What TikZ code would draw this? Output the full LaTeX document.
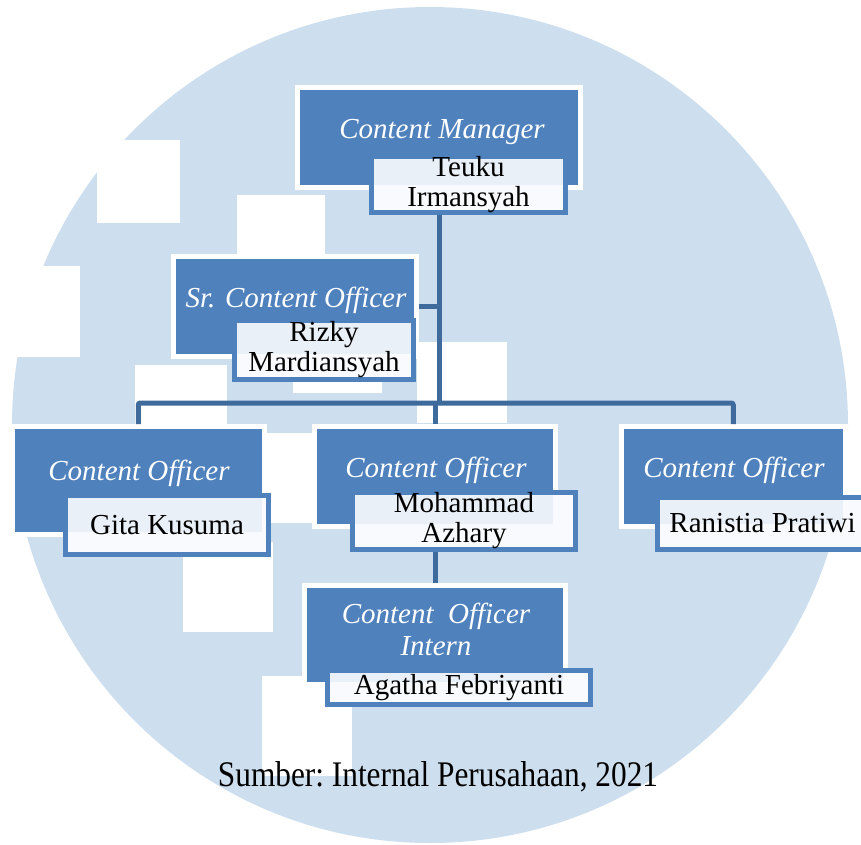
\documentclass[tikz,border=0pt]{standalone}
\usepackage{fontspec}
\setmainfont{Liberation Serif}
\newfontfamily\srcfont{Liberation Serif}[FakeStretch=0.87]
\usetikzlibrary{calc}
\definecolor{wm}{HTML}{CDDEEE}
\definecolor{boxblue}{HTML}{4F81BD}
\definecolor{connblue}{HTML}{3F6A9C}
\definecolor{hiblue}{HTML}{EAF0F8}
\definecolor{lowwhite}{HTML}{F8FAFD}
\tikzset{
  tbox/.style={draw=white, line width=5pt, fill=boxblue, inner sep=0pt, outer sep=2.5pt},
  ttext/.style={text=white, font=\fontsize{29}{32}\selectfont\itshape, align=center, inner sep=0pt},
  nbox/.style={draw=boxblue, line width=5pt, fill=hiblue, inner sep=0pt, outer sep=2.5pt,
    align=center, text=black, font=\fontsize{29}{30}\selectfont,
    path picture={
      \fill[lowwhite] (path picture bounding box.south west) rectangle ($(path picture bounding box.east |- #1.south)+(0pt,5pt)$);
      \fill[lowwhite] ($(#1.east |- path picture bounding box.north)+(-5pt,0pt)$) rectangle (path picture bounding box.south east);
    }},
  conn/.style={draw=connblue, line width=5pt, rounded corners=2pt},
  srcnote/.style={font=\srcfont\fontsize{36}{38}\selectfont\frenchspacing, inner sep=0pt, anchor=base}
}
\begin{document}
\begin{tikzpicture}[x=1pt,y=-1pt]
\useasboundingbox (0,0) rectangle (861,844);
\clip (0,0) rectangle (861,844);
% watermark
\fill[wm] (430,425) circle[radius=418pt];
\foreach \a/\b/\c/\d in {97/140/180/223, 0/266/80/357, 237/195/325/260, 135/365/227/430,
  293/340/382/393, 417/342/507/423, 267/433/312/523, 183/542/273/632, 262/676/352/776}
  \fill[white] (\a,\b) rectangle (\c,\d);
% Content Manager
\node[tbox, minimum width=283pt, minimum height=100pt] (cm) at (439,137.5) {};
\node[nbox=cm, minimum width=194pt, minimum height=50pt] (cmn) at (468.5,184.5) {Teuku\\Irmansyah};
\node[ttext] (cmt) at (442,132) {Content Manager};
% Sr. Content Officer
\node[tbox, minimum width=243.5pt, minimum height=100pt] (sr) at (294.75,306) {};
\node[nbox=sr, minimum width=179pt, minimum height=59pt] (srn) at (324,350) {Rizky\\Mardiansyah};
\node[ttext] (srt) at (296,300) {Sr. Content Officer};
% Content Officer - Gita
\node[tbox, minimum width=251.5pt, minimum height=108pt] (g) at (138.25,480.5) {};
\node[nbox=g, minimum width=203pt, minimum height=59pt] (gn) at (167,525) {Gita Kusuma};
\node[ttext] (gt) at (139,473) {Content Officer};
% Content Officer - Mohammad
\node[tbox, minimum width=241pt, minimum height=100pt] (m) at (435,476.5) {};
\node[nbox=m, minimum width=223pt, minimum height=51pt] (mn) at (464,521) {Mohammad\\Azhary};
\node[ttext] (mt) at (436,470) {Content Officer};
% Content Officer - Ranistia
\node[tbox, minimum width=224.5pt, minimum height=100pt] (r) at (733.25,476.5) {};
\node[nbox=r, minimum width=210pt, minimum height=52pt] (rn) at (762.5,523.5) {Ranistia Pratiwi};
\node[ttext] (rt) at (734,470) {Content Officer};
% Content Officer Intern
\node[tbox, minimum width=261pt, minimum height=99.5pt] (i) at (435,634.75) {};
\node[nbox=i, minimum width=263pt, minimum height=34pt] (in) at (459,687.5) {Agatha Febriyanti};
\node[ttext] (it) at (436,629) {Content~~Officer\\Intern};
% connectors
\coordinate (j1) at (439,306);
\coordinate (j2) at (439,403);
\draw[conn] (cmn.south -| j1) -- (j2);
\draw[conn] (sr.east) -- (j1);
\draw[conn] (g.north) -- (g.north |- j2) -- (r.north |- j2) -- (r.north);
\draw[conn] (m.north |- j2) -- (m.north);
\draw[conn] (mn.south -| i.north) -- (i.north);
% source
\node[srcnote] (src) at (438,786) {Sumber: Internal Perusahaan, 2021};
\end{tikzpicture}
\end{document}
